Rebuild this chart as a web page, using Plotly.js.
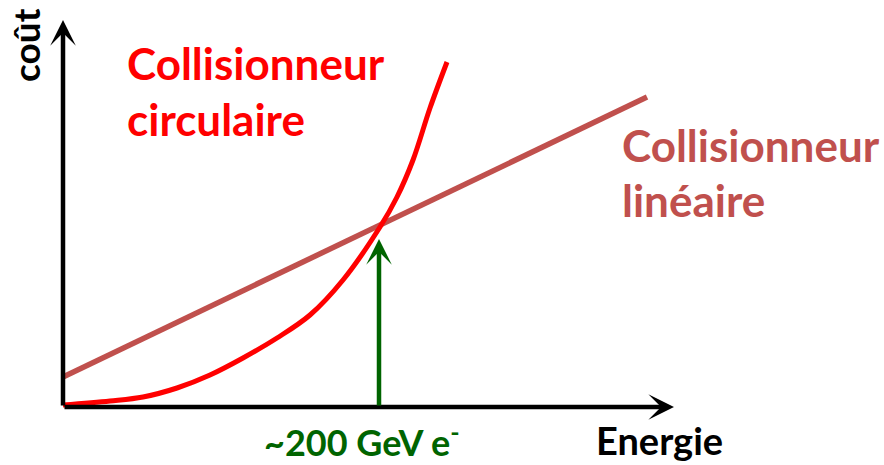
<!DOCTYPE html>
<html>
<head>
<meta charset="utf-8">
<script src="https://cdn.plot.ly/plotly-3.0.1.min.js"></script>
<style>html,body{margin:0;padding:0;background:#fff;}#chart{width:884px;height:465px;}</style>
</head>
<body>
<div id="chart"></div>
<script>
// Schematic: cost vs energy (arbitrary units)
const circEnergy = [0, 47, 80, 114, 147, 180, 214, 247, 280, 317, 334, 350, 367, 384];
const circCost   = [2, 6, 10, 19, 32, 49, 69, 92, 127, 180, 210, 247, 299, 345];
const linEnergy = [0, 584];
const linCost   = [30, 310];
const crossEnergy = 316;
const crossCost = 168;
const axisXMax = 611;
const axisYMax = 387;

const labelCirc = ["Collisionneur", "circulaire"];
const labelLin = ["Collisionneur", "linéaire"];
const xLabel = "Energie";
const yLabel = "coût";
const crossLabel = "~200 GeV e<sup>-</sup>";

const RED = "#FF0000", BROWN = "#C0504D", GREEN = "#006400";
const FONT = "Lato, 'Open Sans', sans-serif";

const traces = [
  {x: linEnergy, y: linCost, mode: "lines", line: {color: BROWN, width: 5.5}, hoverinfo: "skip"},
  {x: circEnergy, y: circCost, mode: "lines", line: {color: RED, width: 5, shape: "spline", smoothing: 1}, hoverinfo: "skip"}
];

const ann = [];
// axes arrows
ann.push({x: axisXMax, y: 0, ax: 0, ay: 0, xref: "x", yref: "y", axref: "x", ayref: "y",
  text: "", showarrow: true, arrowhead: 3, arrowsize: 0.95, arrowwidth: 4.5, arrowcolor: "#000"});
ann.push({x: 0, y: axisYMax, ax: 0, ay: 0, xref: "x", yref: "y", axref: "x", ayref: "y",
  text: "", showarrow: true, arrowhead: 3, arrowsize: 0.95, arrowwidth: 4.5, arrowcolor: "#000"});
// green arrow
ann.push({x: crossEnergy, y: crossCost, ax: crossEnergy, ay: 0, xref: "x", yref: "y", axref: "x", ayref: "y",
  text: "", showarrow: true, arrowhead: 3, arrowsize: 0.95, arrowwidth: 4.5, arrowcolor: GREEN});

function lab(text, x, y, color, size, extra) {
  return Object.assign({x: x, y: y, xref: "x", yref: "y", text: "<b>" + text + "</b>", showarrow: false,
    xanchor: "left", yanchor: "middle", font: {family: FONT, size: size, color: color}}, extra || {});
}
ann.push(lab(labelCirc[0], 62, 344, RED, 44));
ann.push(lab(labelCirc[1], 62, 288, RED, 44));
ann.push(lab(labelLin[0], 557, 262, BROWN, 44));
ann.push(lab(labelLin[1], 557, 207, BROWN, 44));
ann.push(lab(xLabel, 531, -33, "#000", 38));
ann.push(lab(crossLabel, 199, -33, GREEN, 36));
ann.push(lab(yLabel, -38, 362, "#000", 37, {xanchor: "center", textangle: -90}));

const layout = {
  width: 884, height: 465,
  margin: {l: 0, r: 0, t: 0, b: 0},
  paper_bgcolor: "#fff", plot_bgcolor: "#fff",
  showlegend: false,
  xaxis: {range: [-63, 821], visible: false, fixedrange: true},
  yaxis: {range: [-58, 407], visible: false, fixedrange: true},
  annotations: ann
};
Plotly.newPlot("chart", traces, layout, {staticPlot: true});
</script>
</body>
</html>
